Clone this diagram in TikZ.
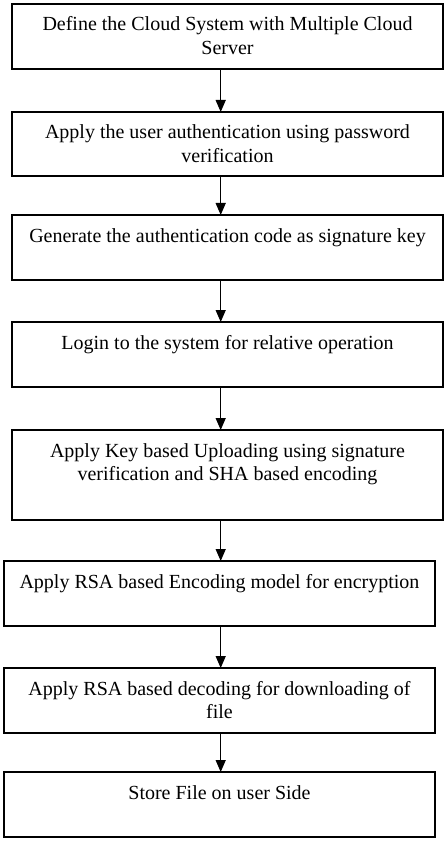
\documentclass[tikz,border=0pt]{standalone}
\usepackage{fontspec}
\setmainfont{Liberation Serif}
\usepackage{tikz}
\usetikzlibrary{positioning,arrows.meta}
\tikzset{
    flow-box/.style = {draw, line width=1.3pt, inner sep=0pt, outer sep=0pt, anchor=north, minimum width=431pt},
    flow-arrow/.style = {line width=1.4pt, -{Triangle[length=12pt, width=10pt]}},
}
\newcommand{\boxtext}[2][65pt]{\parbox[c][#1][t]{428pt}{\centering\fontsize{20}{23.3}\selectfont\rule{0pt}{27pt}#2}}

\begin{document}
\begin{tikzpicture}
\useasboundingbox (0,0) rectangle (446pt,-842pt);
\coordinate (axis) at (220.7pt,0);
\node[flow-box] (define) at (227.5pt,-4pt) {\boxtext{Define the Cloud System with Multiple Cloud\\Server}};
\node[flow-box, below=43pt of define] (auth) {\boxtext[64pt]{Apply the user authentication using password\\verification}};
\node[flow-box, below=39pt of auth] (code) {\boxtext{Generate the authentication code as signature key}};
\node[flow-box, below=42pt of code] (login) {\boxtext{Login to the system for relative operation}};
\node[flow-box, below=43pt of login] (upload) {\boxtext[90pt]{Apply Key based Uploading using signature\\verification and SHA based encoding}};
\node[flow-box, below=41pt of upload, xshift=-8pt] (encode) {\boxtext{Apply RSA based Encoding model for encryption}};
\node[flow-box, below=42pt of encode] (decode) {\boxtext{Apply RSA based decoding for downloading of\\file}};
\node[flow-box, below=39pt of decode] (store) {\boxtext{Store File on user Side}};

\draw[flow-arrow] (define.south -| axis) -- (auth.north -| axis);
\draw[flow-arrow] (auth.south -| axis) -- (code.north -| axis);
\draw[flow-arrow] (code.south -| axis) -- (login.north -| axis);
\draw[flow-arrow] (login.south -| axis) -- (upload.north -| axis);
\draw[flow-arrow] (upload.south -| axis) -- (encode.north -| axis);
\draw[flow-arrow] (encode.south -| axis) -- (decode.north -| axis);
\draw[flow-arrow] (decode.south -| axis) -- (store.north -| axis);
\end{tikzpicture}
\end{document}
